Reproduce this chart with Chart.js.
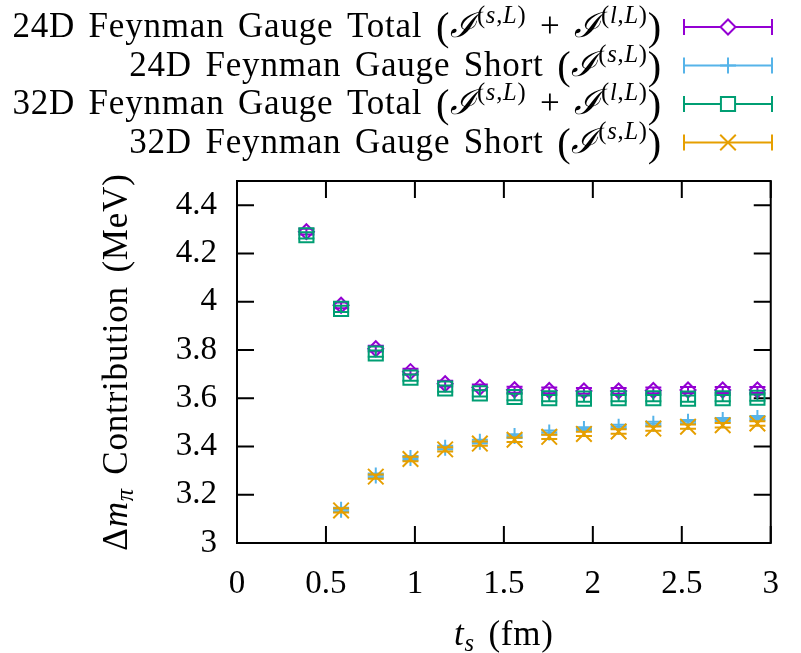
<!DOCTYPE html>
<html lang="en">
<head>
<meta charset="UTF-8">
<title>Delta m_pi contribution vs t_s</title>
<script src="https://cdn.jsdelivr.net/npm/chart.js"></script>
<style>
  body { margin: 0; background: #fff; }
  canvas { display: block; }
</style>
</head>
<body>
<canvas id="grafico" width="801" height="653"></canvas>
<script>
// t_s values (fm)
const ts = [0.39, 0.585, 0.78, 0.975, 1.17, 1.365, 1.56, 1.755, 1.95, 2.145, 2.34, 2.535, 2.73, 2.925];

// series values (MeV), null = no point
const total24 = [4.29, 3.985, 3.805, 3.71, 3.66, 3.645, 3.635, 3.632, 3.630, 3.630, 3.632, 3.634, 3.634, 3.634];
const short24 = [null, 3.138, 3.280, 3.352, 3.395, 3.420, 3.443, 3.458, 3.472, 3.482, 3.494, 3.502, 3.510, 3.518];
const total32 = [4.275, 3.970, 3.785, 3.685, 3.640, 3.620, 3.605, 3.600, 3.598, 3.600, 3.600, 3.598, 3.600, 3.602];
const short32 = [null, 3.135, 3.275, 3.348, 3.388, 3.412, 3.428, 3.440, 3.452, 3.462, 3.474, 3.482, 3.488, 3.495];

// error bars
const total24Err = [0.012, 0.012, 0.012, 0.012, 0.012, 0.012, 0.012, 0.012, 0.012, 0.012, 0.012, 0.012, 0.012, 0.012];
const short24Err = [null, 0.008, 0.008, 0.008, 0.008, 0.008, 0.008, 0.008, 0.008, 0.008, 0.008, 0.008, 0.008, 0.008];
const total32Err = [0.013, 0.013, 0.013, 0.013, 0.013, 0.013, 0.013, 0.013, 0.013, 0.013, 0.013, 0.013, 0.013, 0.013];
const short32Err = [null, 0.009, 0.009, 0.009, 0.009, 0.009, 0.009, 0.009, 0.009, 0.009, 0.009, 0.009, 0.009, 0.009];

const seriesNames = ['24D Feynman Gauge Total', '24D Feynman Gauge Short', '32D Feynman Gauge Total', '32D Feynman Gauge Short'];
const seriesTerms = [['s,L', 'l,L'], ['s,L'], ['s,L', 'l,L'], ['s,L']];

const xTicks = [0, 0.5, 1, 1.5, 2, 2.5, 3];
const yTicks = [3, 3.2, 3.4, 3.6, 3.8, 4, 4.2, 4.4];

const FONT = "'Liberation Serif', 'DejaVu Serif', serif";
const SIZE = 35;

function puntos(vals, errs) {
  const out = [];
  ts.forEach((x, i) => { if (vals[i] !== null) out.push({ x: x, y: vals[i], e: errs[i] }); });
  return out;
}

const estilos = [
  { color: '#9400D3', style: 'rectRot', r: 7.5 },
  { color: '#56B4E9', style: 'cross', r: 8 },
  { color: '#009E73', style: 'rect', r: 10 },
  { color: '#E69F00', style: 'crossRot', r: 11 }
];
const valores = [[total24, total24Err], [short24, short24Err], [total32, total32Err], [short32, short32Err]];

const datasets = valores.map((v, i) => ({
  label: seriesNames[i] + ' (ℐ^(' + seriesTerms[i].join(') + ℐ^(') + '))',
  data: puntos(v[0], v[1]),
  showLine: false,
  pointStyle: estilos[i].style,
  pointRadius: estilos[i].r,
  pointHoverRadius: estilos[i].r,
  borderColor: estilos[i].color,
  backgroundColor: 'rgba(0,0,0,0)',
  borderWidth: 2,
  order: 3 - i
}));

// texto con subindices / superindices
function fontOf(p) {
  const s = SIZE * (p.k || 1);
  return (p.i ? 'italic ' : '') + s + 'px ' + FONT;
}
function setSpacing(ctx) {
  ctx.letterSpacing = '0.8px';
  ctx.wordSpacing = '4px';
}
function widthOf(ctx, parts) {
  let w = 0;
  parts.forEach(p => { ctx.font = fontOf(p); w += ctx.measureText(p.t).width; });
  return w;
}
function drawParts(ctx, parts, x, y) {
  parts.forEach(p => {
    ctx.font = fontOf(p);
    ctx.fillText(p.t, x, y + (p.dy || 0));
    x += ctx.measureText(p.t).width;
  });
}
function legendParts(i) {
  const parts = [{ t: seriesNames[i] + ' ' }, { t: '(', k: 1.15, dy: 3 }];
  seriesTerms[i].forEach((term, j) => {
    if (j > 0) parts.push({ t: ' + ' });
    parts.push({ t: 'ℐ', i: true });
    const [a, b] = term.split(',');
    parts.push({ t: '(', k: 0.7, dy: -14 });
    parts.push({ t: a, k: 0.7, dy: -14, i: true });
    parts.push({ t: ',', k: 0.7, dy: -14 });
    parts.push({ t: b, k: 0.7, dy: -14, i: true });
    parts.push({ t: ')', k: 0.7, dy: -14 });
  });
  parts.push({ t: ')', k: 1.15, dy: 3 });
  return parts;
}

function errorBar(ctx, x, y1, y2, cap) {
  ctx.beginPath();
  ctx.moveTo(x, y1); ctx.lineTo(x, y2);
  ctx.moveTo(x - cap, y1); ctx.lineTo(x + cap, y1);
  ctx.moveTo(x - cap, y2); ctx.lineTo(x + cap, y2);
  ctx.stroke();
}

const barras = {
  id: 'barras',
  beforeDatasetDraw(chart, args) {
    const ctx = chart.ctx, ys = chart.scales.y, xs = chart.scales.x;
    const ds = chart.data.datasets[args.index];
    ctx.save();
    ctx.strokeStyle = ds.borderColor;
    ctx.lineWidth = 2;
    ds.data.forEach(p => {
      errorBar(ctx, xs.getPixelForValue(p.x), ys.getPixelForValue(p.y + p.e), ys.getPixelForValue(p.y - p.e), 8);
    });
    ctx.restore();
  }
};

const marco = {
  id: 'marco',
  beforeDatasetsDraw(chart) {
    const ctx = chart.ctx, a = chart.chartArea, xs = chart.scales.x, ys = chart.scales.y;
    ctx.save();
    ctx.strokeStyle = '#000';
    ctx.lineWidth = 2;
    ctx.strokeRect(a.left, a.top, a.right - a.left, a.bottom - a.top);
    ctx.beginPath();
    xTicks.forEach(v => {
      const px = xs.getPixelForValue(v);
      ctx.moveTo(px, a.bottom); ctx.lineTo(px, a.bottom - 17);
      ctx.moveTo(px, a.top); ctx.lineTo(px, a.top + 17);
    });
    yTicks.forEach(v => {
      const py = ys.getPixelForValue(v);
      ctx.moveTo(a.left, py); ctx.lineTo(a.left + 17, py);
      ctx.moveTo(a.right, py); ctx.lineTo(a.right - 17, py);
    });
    ctx.stroke();
    ctx.restore();
  },
  afterDraw(chart) {
    const ctx = chart.ctx, a = chart.chartArea;
    ctx.save();
    ctx.fillStyle = '#000';
    ctx.textBaseline = 'alphabetic';
    setSpacing(ctx);

    // leyenda
    const right = 662, base0 = 37, step = 38.5;
    for (let i = 0; i < 4; i++) {
      const parts = legendParts(i);
      const b = base0 + i * step;
      ctx.fillStyle = '#000';
      drawParts(ctx, parts, right - widthOf(ctx, parts), b);
      const cy = b - 10, x1 = 684, x2 = 772, xm = 728;
      ctx.strokeStyle = estilos[i].color;
      ctx.lineWidth = 2;
      ctx.beginPath();
      ctx.moveTo(x1, cy); ctx.lineTo(x2, cy);
      ctx.moveTo(x1, cy - 8); ctx.lineTo(x1, cy + 8);
      ctx.moveTo(x2, cy - 8); ctx.lineTo(x2, cy + 8);
      ctx.stroke();
      ctx.fillStyle = '#fff';
      Chart.helpers.drawPoint(ctx, { pointStyle: estilos[i].style, radius: estilos[i].r, borderWidth: 2 }, xm, cy);
    }
    ctx.fillStyle = '#000';

    // titulo eje x
    const xt = [{ t: 't', i: true }, { t: 's', i: true, k: 0.7, dy: 6 }, { t: ' (fm)' }];
    drawParts(ctx, xt, (a.left + a.right) / 2 - widthOf(ctx, xt) / 2, 645);

    // titulo eje y
    const yt = [{ t: 'Δ' }, { t: 'm', i: true }, { t: 'π', i: true, k: 0.7, dy: 6 }, { t: ' Contribution (MeV)' }];
    ctx.translate(127, (a.top + a.bottom) / 2);
    ctx.rotate(-Math.PI / 2);
    drawParts(ctx, yt, -widthOf(ctx, yt) / 2, 0);
    ctx.restore();
  }
};

new Chart(document.getElementById('grafico').getContext('2d'), {
  type: 'scatter',
  data: { datasets: datasets },
  plugins: [barras, marco],
  options: {
    responsive: false,
    animation: false,
    layout: { padding: { top: 181, right: 11, left: 0, bottom: 0 } },
    plugins: { legend: { display: false }, tooltip: { enabled: false } },
    scales: {
      x: {
        type: 'linear', min: 0, max: 3,
        afterBuildTicks: s => { s.ticks = xTicks.map(v => ({ value: v })); },
        afterFit: s => { s.height = 110; },
        grid: { display: false, drawTicks: false, tickLength: 0 },
        border: { display: false },
        ticks: { color: '#000', font: { family: FONT, size: 33 }, padding: 22, maxRotation: 0, callback: v => String(v) }
      },
      y: {
        type: 'linear', min: 3, max: 4.5,
        afterBuildTicks: s => { s.ticks = yTicks.map(v => ({ value: v })); },
        afterFit: s => { s.width = 237; },
        grid: { display: false, drawTicks: false, tickLength: 0 },
        border: { display: false },
        ticks: { color: '#000', font: { family: FONT, size: 33 }, padding: 20, callback: v => String(+v.toFixed(2)) }
      }
    }
  }
});
</script>
</body>
</html>
